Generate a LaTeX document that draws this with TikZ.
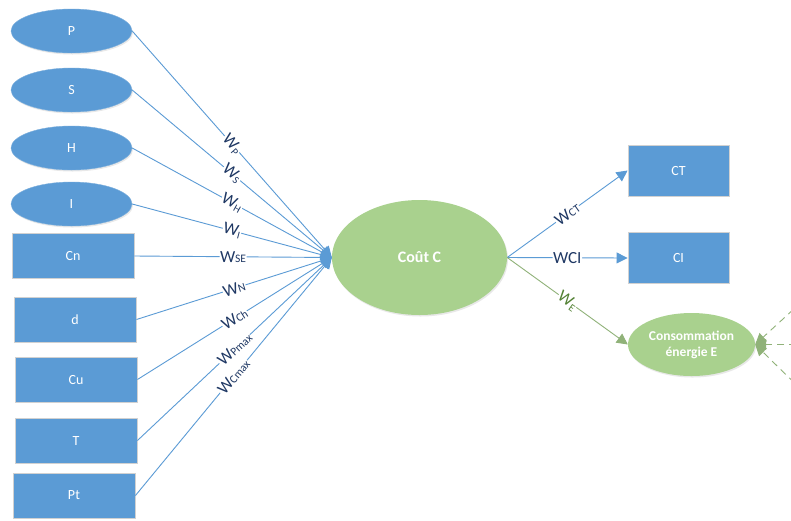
\documentclass[tikz,border=0pt]{standalone}
\usepackage{fontspec}
\setmainfont{Carlito}
\usetikzlibrary{arrows.meta,shapes.geometric,shadows}
\definecolor{obl}{HTML}{5B9BD5}
\definecolor{ogr}{HTML}{A9D18E}
\definecolor{navy}{HTML}{1F3864}
\definecolor{dgr}{HTML}{548235}
\newcommand{\wsub}[1]{W\raisebox{-2pt}{\fontsize{10.5}{10.5}\selectfont #1}}
\newcommand{\wsc}[1]{W{\fontsize{11.5}{11.5}\selectfont #1}}
\begin{document}
\begin{tikzpicture}[x=1pt,y=-1pt,
  shad/.style={drop shadow={opacity=0.18,shadow xshift=1pt,shadow yshift=-1.5pt}},
  bellipse/.style={ellipse,fill=obl,draw=obl!80!white,line width=0.4pt,shad,
    minimum width=121pt,minimum height=44pt,inner sep=0pt,text=white,
    font=\fontsize{14}{14}\selectfont},
  brect/.style={rectangle,fill=obl,draw=black!18,line width=0.9pt,
    minimum width=122pt,minimum height=45pt,inner sep=0pt,text=white,
    font=\fontsize{14}{14}\selectfont},
  rrect/.style={brect,minimum width=101pt,minimum height=51pt},
  bline/.style={draw=obl,line width=0.9pt,-{Triangle[length=11pt,width=11pt]}},
  gline/.style={draw=ogr!85!black,line width=0.9pt,-{Triangle[length=11pt,width=11pt]}},
  dline/.style={gline,dash pattern=on 7pt off 5pt},
  wlab/.style={sloped,fill=white,inner sep=0.6pt,text=navy,
    font=\fontsize{17}{17}\selectfont},
  glab/.style={wlab,text=dgr}
]
\clip (0,0) rectangle (791,520);
\fill[white] (0,0) rectangle (791,520);

% left ellipses
\node[bellipse] (P) at (71.5,31) {P};
\node[bellipse] (S) at (71.5,90) {S};
\node[bellipse] (H) at (71.5,148) {H};
\node[bellipse] (I) at (71.5,204) {I};
% left rectangles
\node[brect] (Cn) at (73,256) {Cn};
\node[brect] (d)  at (75,319.5) {d};
\node[brect] (Cu) at (76,379.5) {Cu};
\node[brect] (T)  at (76,440.5) {T};
\node[brect] (Pt) at (74,495.5) {Pt};

% centre
\node[ellipse,fill=ogr,shad,minimum width=175pt,minimum height=115pt,inner sep=0pt,
  text=white,font=\fontsize{16}{16}\selectfont\bfseries] (C) at (419.5,257.5) {Coût C};

% right
\node[rrect] (CT) at (678.5,170.5) {CT};
\node[rrect] (CI) at (678.5,258) {CI};
\node[ellipse,fill=ogr,shad,minimum width=127pt,minimum height=63pt,inner sep=0pt,
  text=white,align=center,font=\fontsize{13.5}{16}\selectfont\bfseries] (E)
  at (691.5,344.5) {Consommation\\énergie E};

% left connectors
\draw[bline] (P.east)  -- node[wlab] {\wsub{P}} (C.west);
\draw[bline] (S.east)  -- node[wlab] {\wsub{S}} (C.west);
\draw[bline] (H.east)  -- node[wlab] {\wsub{H}} (C.west);
\draw[bline] (I.east)  -- node[wlab] {\wsub{I}} (C.west);
\draw[bline] (Cn.east) -- node[wlab] {\wsc{SE}} (C.west);
\draw[bline] (d.east)  -- node[wlab] {\wsc{N}} (C.west);
\draw[bline] (Cu.east) -- node[wlab] {\wsc{Ch}} (C.west);
\draw[bline] (T.east)  -- node[wlab] {\wsc{Pmax}} (C.west);
\draw[bline] (Pt.east) -- node[wlab] {\wsc{Cmax}} (C.west);

% right connectors
\draw[bline] (C.east) -- node[wlab] {\wsc{CT}} (CT.west);
\draw[bline] (C.east) -- node[wlab] {WCI} (CI.west);
\draw[gline] (C.east) -- node[glab] {\wsub{E}} (E.west);

% dashed incoming
\coordinate (e1) at (820,285);
\coordinate (e2) at (820,344.5);
\coordinate (e3) at (820,408);
\draw[dline] (e1) -- (E.east);
\draw[dline] (e2) -- (E.east);
\draw[dline] (e3) -- (E.east);
\end{tikzpicture}
\end{document}
